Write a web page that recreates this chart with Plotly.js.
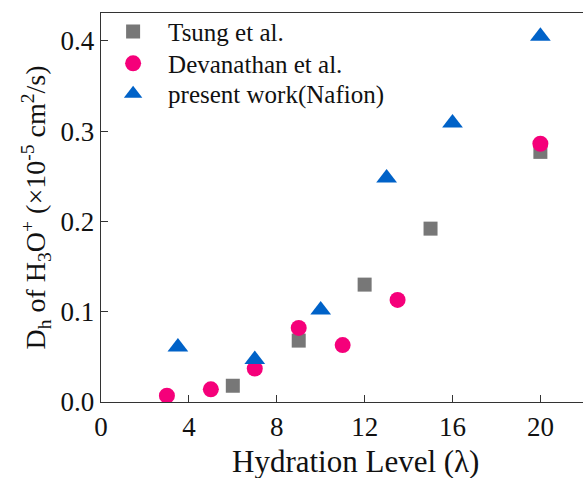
<!DOCTYPE html>
<html>
<head>
<meta charset="utf-8">
<script src="https://cdn.plot.ly/plotly-3.0.1.min.js"></script>
<style>html,body{margin:0;padding:0;background:#fff;}#chart{width:583px;height:478px;}</style>
</head>
<body>
<div id="chart"></div>
<script>
const tsungX = [6, 9, 12, 15, 20];
const tsungY = [0.018, 0.068, 0.130, 0.192, 0.277];
const devX = [3, 5, 7, 9, 11, 13.5, 20];
const devY = [0.007, 0.014, 0.037, 0.082, 0.063, 0.113, 0.286];
const presX = [3.5, 7, 10, 13, 16, 20];
const presY = [0.061, 0.047, 0.102, 0.248, 0.309, 0.405];
const seriesNames = ["Tsung et al.", "Devanathan et al.", "present work(Nafion)"];
const xTicks = [0, 4, 8, 12, 16, 20];
const yTicks = [0.0, 0.1, 0.2, 0.3, 0.4];
const xTitle = "Hydration Level (λ)";
const yTitle = "D<sub>h</sub> of H<sub>3</sub>O<sup>+</sup> (×10<sup>-5</sup> cm<sup>2</sup>/s)";

const font = "Liberation Serif";
const traces = [
  {x: tsungX, y: tsungY, name: seriesNames[0], mode: "markers", type: "scatter", legend: "legend",
   marker: {symbol: "square", size: 14, color: "#777777"}},
  {x: devX, y: devY, name: seriesNames[1], mode: "markers", type: "scatter", legend: "legend2",
   marker: {symbol: "circle", size: 16, color: "#f5007a"}},
  {x: presX, y: presY, name: seriesNames[2], mode: "markers", type: "scatter", legend: "legend3",
   marker: {symbol: "triangle-up", size: 18, color: "#0062c8"}}
];
function leg(yc) {
  return {x: -0.006, y: yc, xanchor: "left", yanchor: "middle", bgcolor: "rgba(0,0,0,0)",
          itemwidth: 60, borderwidth: 0,
          font: {family: font, size: 25, color: "#111"}};
}
const layout = {
  width: 583, height: 478,
  margin: {l: 101, r: 0, t: 13, b: 76},
  paper_bgcolor: "#fff", plot_bgcolor: "#fff",
  font: {family: font, color: "#111"},
  showlegend: true,
  legend: leg(0.952),
  legend2: leg(0.870),
  legend3: leg(0.792),
  xaxis: {range: [0, 21.94], tickvals: xTicks, ticktext: xTicks.map(String),
          ticks: "inside", ticklen: 7, tickcolor: "#333", showgrid: false, zeroline: false,
          showline: true, linecolor: "#333", linewidth: 1.3, mirror: true,
          tickfont: {family: font, size: 27, color: "#111"}},
  yaxis: {range: [0, 0.4308], tickvals: yTicks, ticktext: yTicks.map(v => v.toFixed(1)),
          ticks: "inside", ticklen: 7, tickcolor: "#333", showgrid: false, zeroline: false,
          showline: true, linecolor: "#333", linewidth: 1.3,
          tickfont: {family: font, size: 27, color: "#111"},
          title: {text: yTitle, font: {family: font, size: 28, color: "#111"}, standoff: 6}},
  annotations: [
    {text: xTitle, xref: "paper", yref: "paper", x: 0.527, y: -0.152,
     xanchor: "center", yanchor: "middle", showarrow: false,
     font: {family: font, size: 31, color: "#111"}}
  ]
};
Plotly.newPlot("chart", traces, layout, {displayModeBar: false, staticPlot: true});
</script>
</body>
</html>
